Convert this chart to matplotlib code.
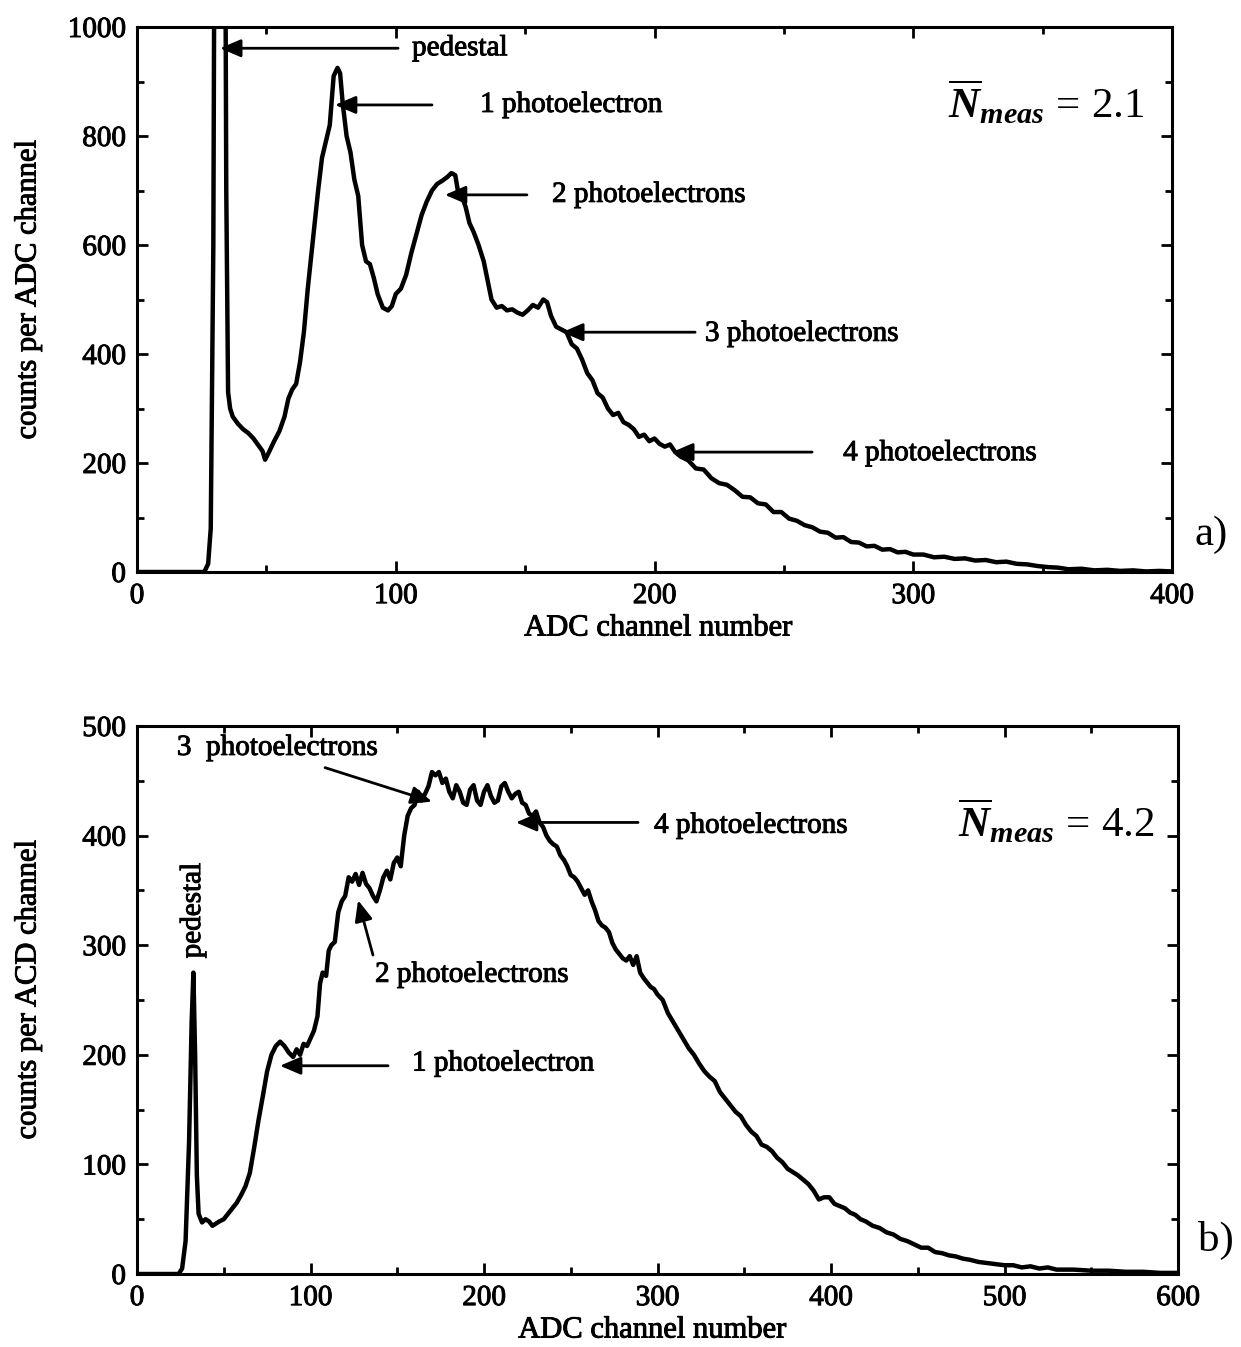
import matplotlib
matplotlib.use("Agg")
import matplotlib.pyplot as plt
import matplotlib.patheffects as pe
from matplotlib.ticker import MultipleLocator

# ---------------- data: panel a ----------------
a_x = [0, 26, 27.5, 28.5, 29.5, 30.5, 32, 33.5, 34.5, 35.2, 36, 37, 39, 41, 43, 45, 47, 48.5, 49.5,
       51, 53, 55, 57, 58.5, 60, 61.5, 63, 64.5, 66, 68, 70, 71.5, 73, 74.5, 76, 77.5, 78.5, 79.5,
       81, 82.5, 84, 85.5, 87, 88.5, 90, 91.5, 93, 95, 97, 98.5, 100, 102, 104, 106, 108, 110, 112,
       114, 116, 118, 120, 121.5, 123, 124, 125.5, 127, 128.5, 130, 132, 134, 135.5, 137, 139, 141,
       143, 145, 147, 149, 151, 153, 155, 157, 158.5, 160, 162, 164, 166, 168, 170, 172, 174, 176,
       178, 180, 182, 184, 186, 188, 190, 192, 194, 196, 198, 200, 202, 204, 206, 208, 210, 213, 216,
       219, 222, 225, 228, 231, 234, 237, 240, 243, 246, 249, 252, 255, 258, 261, 264, 267, 270, 273,
       276, 279, 282, 285, 288, 291, 294, 297, 300, 304, 308, 312, 316, 320, 324, 328, 332, 336, 340,
       344, 348, 352, 356, 360, 365, 370, 375, 380, 385, 390, 395, 400]
a_y = [0, 0, 15, 80, 600, 2000, 3000, 2000, 700, 330, 300, 285, 272, 262, 255, 245, 232, 222, 206,
       220, 240, 258, 285, 318, 335, 345, 385, 440, 520, 610, 700, 760, 790, 820, 910, 925, 915, 860,
       800, 770, 720, 690, 600, 570, 565, 540, 510, 485, 480, 488, 510, 520, 545, 585, 620, 655, 680,
       700, 712, 718, 725, 732, 728, 700, 690, 670, 640, 625, 600, 570, 535, 500, 485, 488,
       480, 482, 476, 472, 480, 490, 485, 500, 495, 470, 450, 445, 440, 418, 410, 390, 365, 352,
       328, 320, 300, 288, 292, 275, 270, 262, 248, 252, 240, 245, 235, 230, 234, 220, 212, 205, 190,
       188, 172, 163, 160, 150, 138, 137, 126, 124, 110, 110, 98, 94, 86, 82, 74, 72, 63, 64,
       55, 54, 47, 48, 41, 42, 36, 37, 32, 32, 27, 28, 24, 25, 21, 22, 18, 19, 15,
       14, 11, 9, 8, 5, 6, 3, 4, 2, 3, 1, 2, 1]

# ---------------- data: panel b ----------------
b_x = [0, 24, 26, 28, 30, 31.5, 32.5, 33.5, 34.5, 35.5, 37.5, 39.5, 41.5, 43.5, 45.5, 47.5, 50, 52.5,
       55, 57.5, 60, 62.5, 65, 67.5, 70, 72.5, 75, 77.5, 80, 82.5, 85, 87.5, 90, 92, 94, 96, 98, 100,
       102, 104, 105.5, 107, 109, 110.5, 112, 114, 116, 118, 120, 122, 124, 126, 128, 130, 132, 134,
       136, 138, 140, 142, 144, 146, 148, 150, 152, 154, 156, 158, 160, 162, 164, 166, 168, 170, 172,
       174, 176, 178, 180, 182, 184, 186, 188, 190, 192, 194, 196, 198, 200, 202, 204, 206, 208, 210,
       212, 214, 216, 218, 220, 222, 224, 226, 228, 230, 232, 234, 236, 238, 240, 242, 244, 246, 248,
       250, 252, 254, 256, 258, 260, 262, 264, 266, 268, 270, 272, 274, 276, 278, 280, 282, 284, 286,
       288, 290, 292, 294, 296, 298, 300, 303, 306, 309, 312, 315, 318, 321, 324, 327, 330, 333, 336,
       339, 342, 345, 348, 351, 354, 357, 360, 363, 366, 369, 372, 375, 378, 381, 384, 387, 390, 393,
       396, 399, 402, 405, 408, 411, 414, 417, 420, 424, 428, 432, 436, 440, 444, 448, 452, 456, 460,
       464, 468, 472, 476, 480, 485, 490, 495, 500, 505, 510, 515, 520, 525, 530, 540, 550, 560, 570,
       580, 590, 600]
b_y = [0, 0, 5, 30, 120, 230, 275, 200, 90, 55, 47, 50, 48, 44, 46, 48, 50, 55,
       60, 65, 72, 80, 92, 115, 140, 162, 185, 200, 208, 212, 208, 202, 198, 205, 200, 210, 208, 215,
       222, 235, 265, 275, 272, 295, 300, 303, 330, 340, 345, 362, 358, 365, 355, 366, 356, 352,
       345, 340, 350, 362, 368, 360, 375, 380, 372, 400, 418, 425, 428, 440, 432, 438, 445, 458, 455,
       458, 448, 452, 440, 434, 446, 440, 430, 428, 442, 446, 432, 428, 440, 446, 436, 430, 432, 445,
       448, 440, 434, 438, 440, 430, 428, 420, 418, 422, 412, 408, 400, 395, 392, 390, 382, 378, 372,
       364, 362, 358, 352, 346, 350, 340, 332, 322, 318, 316, 312, 302, 296, 292, 288, 286, 290, 282,
       290, 275, 270, 266, 262, 260, 255, 250, 238, 230, 222, 214, 206, 200, 192, 185, 180, 176, 166,
       160, 154, 148, 144, 136, 130, 126, 118, 116, 112, 106, 102, 96, 93, 90, 86, 82, 76, 68,
       70, 70, 64, 62, 60, 56, 54, 50, 48, 44, 42, 38, 36, 32, 30, 27, 24, 24, 20,
       19, 17, 16, 14, 13, 11, 10, 9, 8, 8, 6, 7, 5, 6, 4, 4, 3, 3, 2,
       2, 1, 1]

a_labels = [("pedestal", 106.3, 961, 100.9, 32.1, 961),
            ("1 photoelectron", 132.6, 857, 114.0, 76.5, 857),
            ("2 photoelectrons", 160.4, 692, 150.7, 119.0, 692),
            ("3 photoelectrons", 219.5, 437, 215.7, 164.3, 440),
            ("4 photoelectrons", 272.9, 218, 260.9, 206.8, 220)]

plt.rcParams['font.family'] = ['Liberation Serif', 'DejaVu Serif']
plt.rcParams['mathtext.fontset'] = 'custom'
plt.rcParams['mathtext.rm'] = 'Liberation Serif'
plt.rcParams['mathtext.it'] = 'Liberation Serif:italic'
plt.rcParams['mathtext.bf'] = 'Liberation Serif:bold'
plt.rcParams['mathtext.bfit'] = 'Liberation Serif:italic:bold'

W, H = 1241, 1347
fig = plt.figure(figsize=(W / 100, H / 100), dpi=100)
fig.patch.set_facecolor('white')

def fx(px):
    return px / W

def fy(py):
    return 1 - py / H

ax1 = fig.add_axes([fx(137), fy(572), fx(1172) - fx(137), fy(27) - fy(572)])
ax2 = fig.add_axes([fx(137), fy(1274), fx(1178) - fx(137), fy(726) - fy(1274)])

TFS = 21
LW = 3.2
THICK = [pe.withStroke(linewidth=0.7, foreground='black')]

def style(ax, xmax, ymax, xmaj, xmin, ymaj, ymin):
    ax.set_xlim(0, xmax)
    ax.set_ylim(0, ymax)
    ax.xaxis.set_major_locator(MultipleLocator(xmaj))
    ax.xaxis.set_minor_locator(MultipleLocator(xmin))
    ax.yaxis.set_major_locator(MultipleLocator(ymaj))
    ax.yaxis.set_minor_locator(MultipleLocator(ymin))
    ax.tick_params(which='both', direction='in', top=True, right=True, width=2, labelsize=TFS)
    ax.tick_params(which='major', length=8, pad=8)
    ax.tick_params(which='minor', length=5)
    for s in ax.spines.values():
        s.set_linewidth(2.2)
    for lab in ax.get_xticklabels() + ax.get_yticklabels():
        lab.set_path_effects(THICK)

style(ax1, 400, 1000, 100, 50, 200, 100)
style(ax2, 600, 500, 100, 50, 100, 50)

ax1.plot(a_x, a_y, color='black', lw=LW, solid_joinstyle='round')
ax2.plot(b_x, b_y, color='black', lw=LW, solid_joinstyle='round')

arrow_kw = dict(arrowstyle='-|>,head_length=0.7,head_width=0.3', lw=2, color='black',
                mutation_scale=18, shrinkA=0, shrinkB=0)

def label(ax, x, y, s, **kw):
    t = ax.text(x, y, s, fontsize=TFS, **kw)
    t.set_path_effects(THICK)
    return t

for txt, tx, ty, x0, x1, y in a_labels:
    ax1.annotate('', xy=(x1, y), xytext=(x0, y), arrowprops=arrow_kw)
    label(ax1, tx, ty, txt, ha='left', va='center')

# panel b annotations
label(ax2, 23.0, 480, "3  photoelectrons", ha='left', va='center')
ax2.annotate('', xy=(170.0, 431), xytext=(108.4, 462), arrowprops=arrow_kw)
label(ax2, 298.0, 409, "4 photoelectrons", ha='left', va='center')
ax2.annotate('', xy=(218.4, 412), xytext=(288.8, 412), arrowprops=arrow_kw)
label(ax2, 137.2, 273, "2 photoelectrons", ha='left', va='center')
ax2.annotate('', xy=(127.4, 341), xytext=(136.0, 291), arrowprops=arrow_kw)
label(ax2, 158.5, 192, "1 photoelectron", ha='left', va='center')
ax2.annotate('', xy=(82.4, 190), xytext=(144.7, 190), arrowprops=arrow_kw)
label(ax2, 32.3, 288, "pedestal", ha='center', va='bottom', rotation=90)

# N_meas
ax1.text(313.4, 833, r'$\overline{\mathbfit{N}}_{\mathbfit{meas}}\,=\,2.1$', fontsize=31,
         ha='left', va='baseline')
ax2.text(473.2, 398, r'$\overline{\mathbfit{N}}_{\mathbfit{meas}}\,=\,4.2$', fontsize=31,
         ha='left', va='baseline')

# axis labels
for (px, py, s, rot) in [(28, 290, "counts per ADC channel", 90),
                         (658, 628, "ADC channel number", 0),
                         (28, 990, "counts per ACD channel", 90),
                         (652, 1330, "ADC channel number", 0)]:
    t = fig.text(fx(px), fy(py), s, fontsize=22, rotation=rot, ha='center', va='center')
    t.set_path_effects(THICK)

fig.text(fx(1195), fy(535), "a)", fontsize=31, ha='left', va='center')
fig.text(fx(1198), fy(1240), "b)", fontsize=31, ha='left', va='center')

fig.savefig("out.png", dpi=100, facecolor='white')
